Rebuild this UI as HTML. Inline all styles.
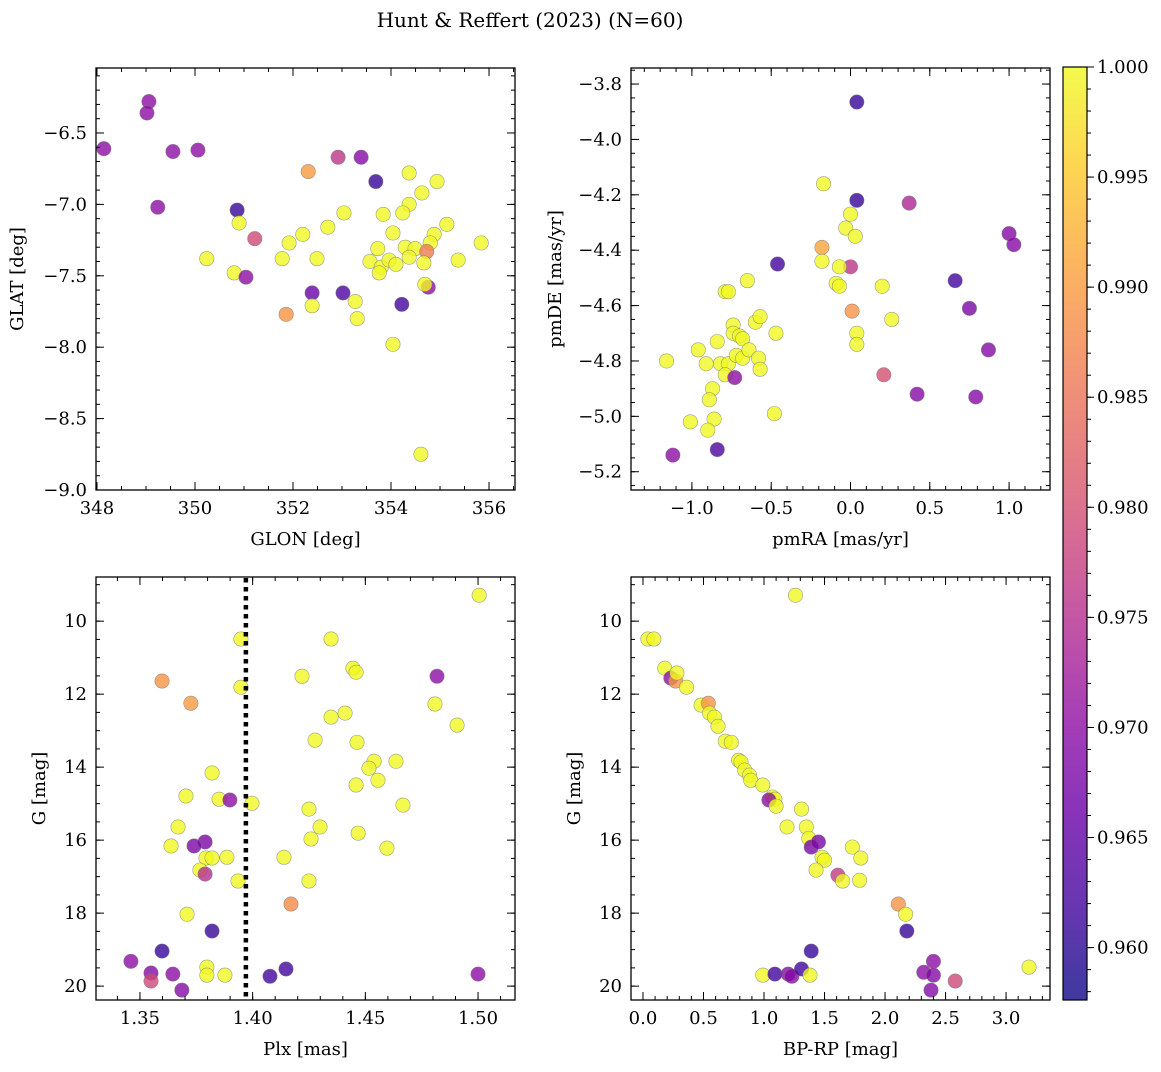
<!DOCTYPE html>
<html><head><meta charset="utf-8"><style>
body{margin:0;background:#fff}
svg text{font-family:"DejaVu Serif","Liberation Serif",serif;fill:#000}
</style></head><body>
<svg id="fig" width="1161" height="1067" viewBox="0 0 1161 1067" xmlns="http://www.w3.org/2000/svg">
<text x="530" y="27" font-size="20" text-anchor="middle">Hunt &amp; Reffert (2023) (N=60)</text>
</svg>
<script>
// Panel 1: GLON / GLAT
const glon=[348.14,349.06,349.02,349.55,350.06,349.24,350.86,350.90,350.24,350.80,351.04,351.22,351.78,351.92,351.86,352.20,352.31,352.49,352.39,352.39,352.71,353.04,353.02,353.27,353.31,354.37,354.94,354.63,354.37,354.24,353.84,354.04,355.14,354.88,354.80,355.84,353.73,354.29,354.49,354.73,353.57,353.80,353.96,354.10,354.37,354.67,355.37,353.76,354.76,354.69,354.22,354.04,354.61,352.92,353.39,353.69];
const glat=[-6.61,-6.28,-6.36,-6.63,-6.62,-7.02,-7.04,-7.13,-7.38,-7.48,-7.51,-7.24,-7.38,-7.27,-7.77,-7.21,-6.77,-7.38,-7.62,-7.71,-7.16,-7.06,-7.62,-7.68,-7.80,-6.78,-6.84,-6.92,-7.00,-7.06,-7.07,-7.20,-7.14,-7.21,-7.27,-7.27,-7.31,-7.30,-7.31,-7.33,-7.40,-7.44,-7.39,-7.42,-7.37,-7.41,-7.39,-7.48,-7.58,-7.56,-7.70,-7.98,-8.75,-6.67,-6.67,-6.84];
const prob1=[0.970,0.970,0.970,0.970,0.970,0.970,0.961,1,1,1,0.970,0.979,1,1,0.989,1,0.990,1,0.966,1,1,1,0.963,1,1,1,1,1,1,1,1,1,1,1,1,1,1,1,1,0.986,1,1,1,1,1,1,1,1,0.970,1,0.962,1,1,0.976,0.969,0.961];
// Panel 2: pmRA / pmDE
const pmra=[0.04,0.04,0.37,-0.17,-0.18,-0.18,-0.46,-0.65,0.00,-0.07,0.00,-0.03,0.03,-0.09,-0.07,0.01,0.20,0.26,0.04,0.04,0.21,0.66,0.75,1.00,1.03,0.87,0.42,0.79,-0.79,-0.77,-0.60,-0.57,-0.47,-0.74,-0.74,-0.70,-0.68,-0.84,-0.96,-1.16,-0.91,-0.82,-0.77,-0.72,-0.68,-0.64,-0.58,-0.57,-0.79,-0.73,-0.87,-0.89,-1.01,-0.86,-0.90,-0.48,-1.12,-0.84];
const pmde=[-3.865,-4.22,-4.23,-4.16,-4.39,-4.44,-4.45,-4.51,-4.46,-4.46,-4.27,-4.32,-4.35,-4.52,-4.53,-4.62,-4.53,-4.65,-4.70,-4.74,-4.85,-4.51,-4.61,-4.34,-4.38,-4.76,-4.92,-4.93,-4.55,-4.55,-4.66,-4.64,-4.70,-4.67,-4.70,-4.71,-4.72,-4.73,-4.76,-4.80,-4.81,-4.81,-4.81,-4.78,-4.79,-4.76,-4.79,-4.83,-4.85,-4.86,-4.90,-4.94,-5.02,-5.01,-5.05,-4.99,-5.14,-5.12];
const prob2=[0.961,0.961,0.974,1,0.991,1,0.962,1,0.976,1,1,1,1,1,1,0.989,1,1,1,1,0.980,0.962,0.968,0.969,0.969,0.969,0.969,0.969,1,1,1,1,1,1,1,1,1,1,1,1,1,1,1,1,1,1,1,1,1,0.970,1,1,1,1,1,1,0.970,0.963];
// Panel 3: Plx / G
const plx=[1.3948,1.3948,1.4348,1.3598,1.3726,1.4219,1.4445,1.4459,1.4818,1.5005,1.4809,1.4907,1.4348,1.4410,1.4277,1.4463,1.4539,1.4516,1.4556,1.4459,1.4636,1.4667,1.4250,1.4299,1.4259,1.4468,1.4596,1.3820,1.3704,1.3851,1.3899,1.3997,1.3669,1.3638,1.3789,1.3740,1.3793,1.3820,1.3886,1.3766,1.3789,1.3935,1.4139,1.4250,1.4170,1.3709,1.3820,1.3598,1.3797,1.3797,1.3877,1.3460,1.3549,1.3549,1.3646,1.3686,1.4077,1.4148,1.5000];
const gmag3=[10.49,11.81,10.49,11.64,12.25,11.51,11.29,11.40,11.51,9.29,12.27,12.85,12.63,12.52,13.26,13.32,13.84,14.03,14.36,14.49,13.84,15.04,15.15,15.64,15.97,15.81,16.22,14.16,14.79,14.88,14.90,14.99,15.64,16.16,16.05,16.16,16.49,16.49,16.47,16.82,16.93,17.12,16.47,17.12,17.75,18.03,18.49,19.04,19.48,19.70,19.70,19.32,19.64,19.86,19.67,20.11,19.73,19.53,19.67];
const prob3=[1,1,1,0.989,0.990,1,1,1,0.970,1,1,1,1,1,1,1,1,1,1,1,1,1,1,1,1,1,1,1,1,1,0.970,1,1,1,0.968,0.968,1,1,1,1,0.975,1,1,1,0.988,1,0.961,0.961,1,1,1,0.970,0.969,0.979,0.970,0.969,0.962,0.962,0.970];
// Panel 4: BP-RP / G
const bprp=[1.26,0.04,0.09,0.18,0.23,0.27,0.28,0.36,0.48,0.54,0.55,0.59,0.62,0.68,0.73,0.79,0.81,0.84,0.88,0.89,0.99,1.07,1.09,1.04,1.10,1.19,1.31,1.35,1.37,1.39,1.45,1.48,1.50,1.43,1.61,1.65,1.73,1.80,1.79,2.11,2.17,2.18,1.39,0.99,1.09,1.20,1.23,1.31,1.38,2.32,2.40,2.40,2.38,2.58,3.19];
const gmag4=[9.29,10.49,10.49,11.29,11.56,11.64,11.42,11.81,12.30,12.25,12.52,12.63,12.88,13.29,13.32,13.81,13.86,14.08,14.22,14.36,14.49,14.82,14.88,14.90,15.07,15.64,15.15,15.64,15.95,16.19,16.05,16.47,16.55,16.82,16.96,17.12,16.19,16.49,17.10,17.75,18.03,18.49,19.04,19.70,19.67,19.67,19.73,19.53,19.70,19.62,19.32,19.70,20.11,19.86,19.48];
const prob4=[1,1,1,1,0.970,0.989,1,1,1,0.989,1,1,1,1,1,1,1,1,1,1,1,1,1,0.970,1,1,1,1,1,0.968,0.968,1,1,1,0.977,1,1,1,1,0.989,1,0.961,0.961,1,0.962,0.969,0.969,0.962,1,0.970,0.970,0.969,0.969,0.979,1];
const cbTicks=[1.000,0.995,0.990,0.985,0.980,0.975,0.970,0.965,0.960];
const PMIN=0.95762,PMAX=1.0;

const NS="http://www.w3.org/2000/svg";
const svg=document.getElementById('fig');
function el(t,a,p){const e=document.createElementNS(NS,t);for(const k in a)e.setAttribute(k,a[k]);(p||svg).appendChild(e);return e;}
const stops=['#0d0887','#41049d','#6a00a8','#8f0da4','#b12a90','#cc4778','#e16462','#f2844b','#fca636','#fcce25','#f0f921'];
function hx(h){return [1,3,5].map(i=>parseInt(h.substr(i,2),16));}
function plasma(t){t=Math.max(0,Math.min(1,t));const s=t*10,i=Math.min(9,Math.floor(s)),f=s-i;const a=hx(stops[i]),b=hx(stops[i+1]);return 'rgb('+a.map((v,k)=>Math.round(v+(b[k]-v)*f)).join(',')+')';}
function pc(p){return plasma((p-PMIN)/(PMAX-PMIN));}
function fmt(v,d){return (v<0?'\u2212':'')+Math.abs(v).toFixed(d);}

function panel(name,box,xr,yr,xMaj,xMin,yMaj,yMin,xd,yd,xlab,ylab,xs,ys,ps,ytx){
  const [L,T,R,B]=box;
  const g=el('g',{});
  
  
  const sx=v=>L+(v-xr[0])/(xr[1]-xr[0])*(R-L);
  const sy=v=>T+(v-yr[0])/(yr[1]-yr[0])*(B-T);
  for(let i=0;i<xs.length;i++){
    const c=el('circle',{cx:sx(xs[i]),cy:sy(ys[i]),r:7.2,fill:pc(ps[i]),'fill-opacity':0.8,stroke:'#777','stroke-width':0.6,'stroke-opacity':0.7},g);
    
    
  }
  const tk=(vals,len,axis)=>{vals.forEach(v=>{
    if(axis==='x'){const x=sx(v);if(x<L-0.5||x>R+0.5)return;el('line',{x1:x,x2:x,y1:B,y2:B-len,stroke:'#000','stroke-width':1},g);el('line',{x1:x,x2:x,y1:T,y2:T+len,stroke:'#000','stroke-width':1},g);}
    else{const y=sy(v);if(y<Math.min(T,B)-0.5||y>Math.max(T,B)+0.5)return;el('line',{x1:L,x2:L+len,y1:y,y2:y,stroke:'#000','stroke-width':1},g);el('line',{x1:R,x2:R-len,y1:y,y2:y,stroke:'#000','stroke-width':1},g);}
  });};
  const rng=(a,b,s)=>{const r=[];for(let v=Math.ceil(a/s-1e-6)*s;v<=b+1e-9;v+=s)r.push(+v.toFixed(6));return r;};
  const xlo=Math.min(...xr),xhi=Math.max(...xr),ylo=Math.min(...yr),yhi=Math.max(...yr);
  tk(rng(xlo,xhi,xMin),4,'x');tk(rng(ylo,yhi,yMin),4,'y');
  const xm=rng(xlo,xhi,xMaj),ym=rng(ylo,yhi,yMaj);
  tk(xm,8,'x');tk(ym,8,'y');
  xm.forEach(v=>{const t=el('text',{x:sx(v),y:B+24,'font-size':18,'text-anchor':'middle'},g);t.textContent=fmt(v,xd);});
  ym.forEach(v=>{const t=el('text',{x:L-9,y:sy(v)+6,'font-size':18,'text-anchor':'end'},g);t.textContent=fmt(v,yd);});
  el('rect',{x:L,y:T,width:R-L,height:B-T,fill:'none',stroke:'#000','stroke-width':1.3},g);
  const xt=el('text',{x:(L+R)/2,y:B+55,'font-size':18,'text-anchor':'middle'},g);xt.textContent=xlab;
  
  const yt=el('text',{x:0,y:0,'font-size':18,'text-anchor':'middle',transform:`translate(${ytx},${(T+B)/2}) rotate(-90)`},g);yt.textContent=ylab;
  
  return {sx,sy,g};
}

panel('panel-glon-glat',[96,68,515,490],[347.98,356.53],[-6.045,-9.0],2,0.5,0.5,0.1,0,1,'GLON [deg]','GLAT [deg]',glon,glat,prob1,23);
panel('panel-propermotion',[631,68,1050,490],[-1.384,1.258],[-3.742,-5.266],0.5,0.1,0.2,0.05,1,1,'pmRA [mas/yr]','pmDE [mas/yr]',pmra,pmde,prob2,561);
const p3=panel('panel-plx-g',[96,577,515,1000],[1.3305,1.5164],[8.79,20.38],0.05,0.01,2,0.5,2,0,'Plx [mas]','G [mag]',plx,gmag3,prob3,45);
panel('panel-cmd',[631,577,1050,1000],[-0.099,3.363],[8.79,20.38],0.5,0.1,2,0.5,1,0,'BP-RP [mag]','G [mag]',bprp,gmag4,prob4,580);
const dl=el('line',{x1:p3.sx(1.397),x2:p3.sx(1.397),y1:578,y2:999,stroke:'#000','stroke-width':4.5,'stroke-dasharray':'4.5 4.5'});



const cb=el('g',{});


const defs=el('defs',{},svg);
const lg=el('linearGradient',{id:'cbg',x1:0,y1:1,x2:0,y2:0},defs);
for(let i=0;i<=20;i++)el('stop',{offset:i/20,'stop-color':plasma(i/20)},lg);
const CT=67,CB=1000,CL=1063,CR=1087;
el('rect',{x:CL,y:CT,width:CR-CL,height:CB-CT,fill:'url(#cbg)','fill-opacity':0.8},cb);
el('rect',{x:CL,y:CT,width:CR-CL,height:CB-CT,fill:'none',stroke:'#000','stroke-width':1.2},cb);
const cy=p=>CT+(PMAX-p)/(PMAX-PMIN)*(CB-CT);
for(let p=0.958;p<=1.0001;p+=0.001){el('line',{x1:CR,x2:CR+4,y1:cy(p),y2:cy(p),stroke:'#000'},cb);}
cbTicks.forEach(p=>{el('line',{x1:CR,x2:CR+7,y1:cy(p),y2:cy(p),stroke:'#000'},cb);
  const t=el('text',{x:CR+10,y:cy(p)+6,'font-size':18},cb);t.textContent=p.toFixed(3);
  });
</script>
</body></html>
